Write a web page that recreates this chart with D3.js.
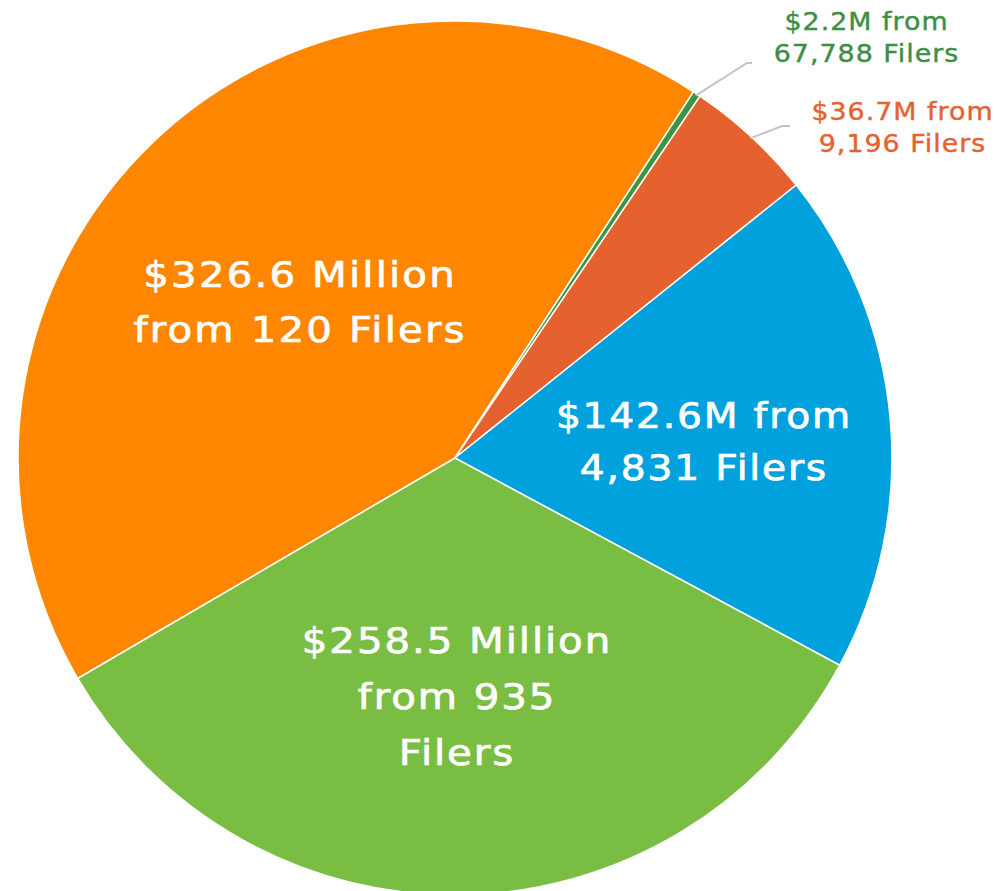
<!DOCTYPE html>
<html><head><meta charset="utf-8">
<script src="https://cdn.jsdelivr.net/npm/d3@7"></script>
<style>body{margin:0;background:#fff}svg{display:block}</style>
</head><body>
<svg id="c" width="994" height="891"></svg>
<script>
const categories = ["orange","tiny","red","blue","green"];
const values = [326.6, 2.2, 36.7, 142.6, 258.5];
const labelLines = [
  ["$326.6 Million","from 120 Filers"],
  ["$2.2M from","67,788 Filers"],
  ["$36.7M from","9,196 Filers"],
  ["$142.6M from","4,831 Filers"],
  ["$258.5 Million","from 935","Filers"]
];
const colors = ["#FF8600","#3D9447","#E5622F","#00A1DD","#7ABD43"];
const textColors = ["#fff","#3D8E45","#E5622F","#fff","#fff"];

const svg = d3.select("#c");
const cx = 455, cy = 458, R = 437;
const g = svg.append("g").attr("transform",`translate(${cx},${cy})`);
const startDeg = -120.3;
const pie = d3.pie().sort(null).value(d=>d)
  .startAngle(startDeg*Math.PI/180).endAngle((startDeg+360)*Math.PI/180);
const arcs = pie(values);
const arc = d3.arc().innerRadius(0).outerRadius(R);
g.selectAll("path.s").data(arcs).join("path").attr("class","s")
  .attr("d",arc).attr("fill",(d,i)=>colors[i])
  .attr("stroke","#fff").attr("stroke-width",1.5);

const font = "'DejaVu Sans', sans-serif";
const sx = 1.12;
// label layout (relative to pie centre): x centre, first baseline, line height
const layout = {
  0:{x:-156, y:-171.5, lh:55, fs:36, ls:1.9, sw:0.7},
  3:{x:248, y:-30, lh:52, fs:35, ls:1.6, sw:0.7},
  4:{x:1, y:195, lh:56, fs:36, ls:1.7, sw:0.7},
  1:{x:411, y:-428.5, lh:32.5, fs:24, ls:0.9, sw:0.4},
  2:{x:447, y:-338, lh:32, fs:24, ls:0.9, sw:0.4}
};
Object.keys(layout).forEach(k=>{
  const i=+k, o=layout[k];
  const t=g.append("text").attr("text-anchor","middle").attr("fill",textColors[i])
    .attr("stroke",textColors[i]).attr("stroke-width",o.sw)
    .attr("transform",`translate(${o.x},0) scale(${sx},1)`)
    .attr("font-family",font).attr("font-size",o.fs).attr("letter-spacing",o.ls);
  labelLines[i].forEach((l,j)=>{
    t.append("tspan").attr("x",o.ls/2).attr("y",o.y+j*o.lh).text(l);
  });
});
// leader lines for the two thin slices
const leaders = {1:[[292,-395],[297,-395]], 2:[[327,-332],[335,-332]]};
Object.keys(leaders).forEach(k=>{
  const a=arcs[+k], mid=(a.startAngle+a.endAngle)/2;
  const p0=[Math.sin(mid)*(R-2), -Math.cos(mid)*(R-2)];
  g.append("polyline").attr("points",[p0,...leaders[k]].map(p=>p.join(",")).join(" "))
    .attr("fill","none").attr("stroke","#c4c4c4").attr("stroke-width",2);
});
</script>
</body></html>
